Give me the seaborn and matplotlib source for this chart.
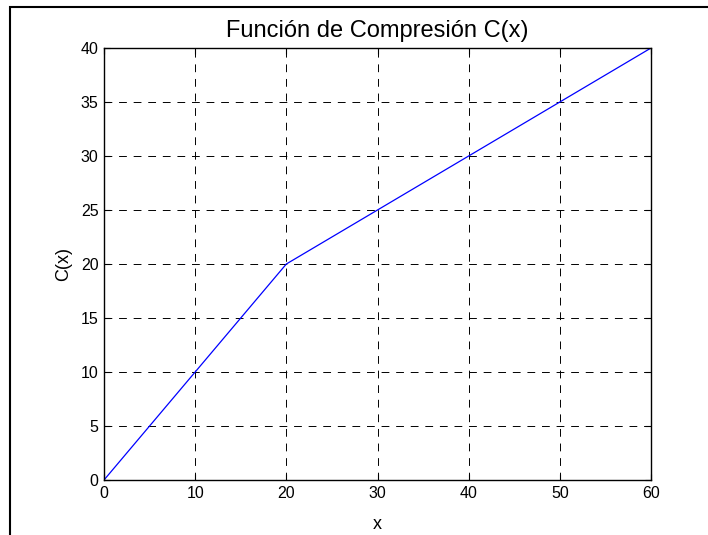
import matplotlib
matplotlib.use("Agg")
import matplotlib.pyplot as plt
import seaborn as sns
import pandas as pd
from matplotlib.patches import Rectangle

x_vals = [0, 20, 60]
c_vals = [0, 20, 40]
x_ticks = [0, 10, 20, 30, 40, 50, 60]
y_ticks = [0, 5, 10, 15, 20, 25, 30, 35, 40]

sns.set_style("white")
plt.rcParams['font.family'] = ['Liberation Sans', 'DejaVu Sans']
plt.rcParams['text.color'] = 'black'
plt.rcParams['axes.labelcolor'] = 'black'

fig = plt.figure(figsize=(7.08, 5.35), dpi=100)
ax = fig.add_axes([104/708, 1-480/535, (651-104)/708, (480-48)/535])

df = pd.DataFrame({"x": x_vals, "C": c_vals})
sns.lineplot(data=df, x="x", y="C", ax=ax, color="blue", linewidth=0.9, sort=False)

ax.set_xlim(0, 60)
ax.set_ylim(0, 40)
ax.set_xticks(x_ticks)
ax.set_yticks(y_ticks)
ax.grid(True, color="black", linestyle=(0, (8, 7)), linewidth=0.7)
ax.set_axisbelow(True)
for s in ax.spines.values():
    s.set_visible(True)
    s.set_color("black")
    s.set_linewidth(1.0)
ax.tick_params(direction="in", length=4, width=0.8, top=True, right=True,
               labelsize=11.5, colors="black", bottom=True, left=True, pad=4)
ax.set_xlabel("x", fontsize=13, labelpad=11, color="black")
ax.set_ylabel("C(x)", fontsize=13, labelpad=6, color="black")
ax.set_title("Función de Compresión C(x)", fontsize=17, pad=8, color="black")

fig.patches.append(Rectangle((10/708, -0.1), 1.2, 1 - 7/535 + 0.1, transform=fig.transFigure,
                             fill=False, edgecolor="black", linewidth=1.5))

fig.savefig("out.png", dpi=100)
